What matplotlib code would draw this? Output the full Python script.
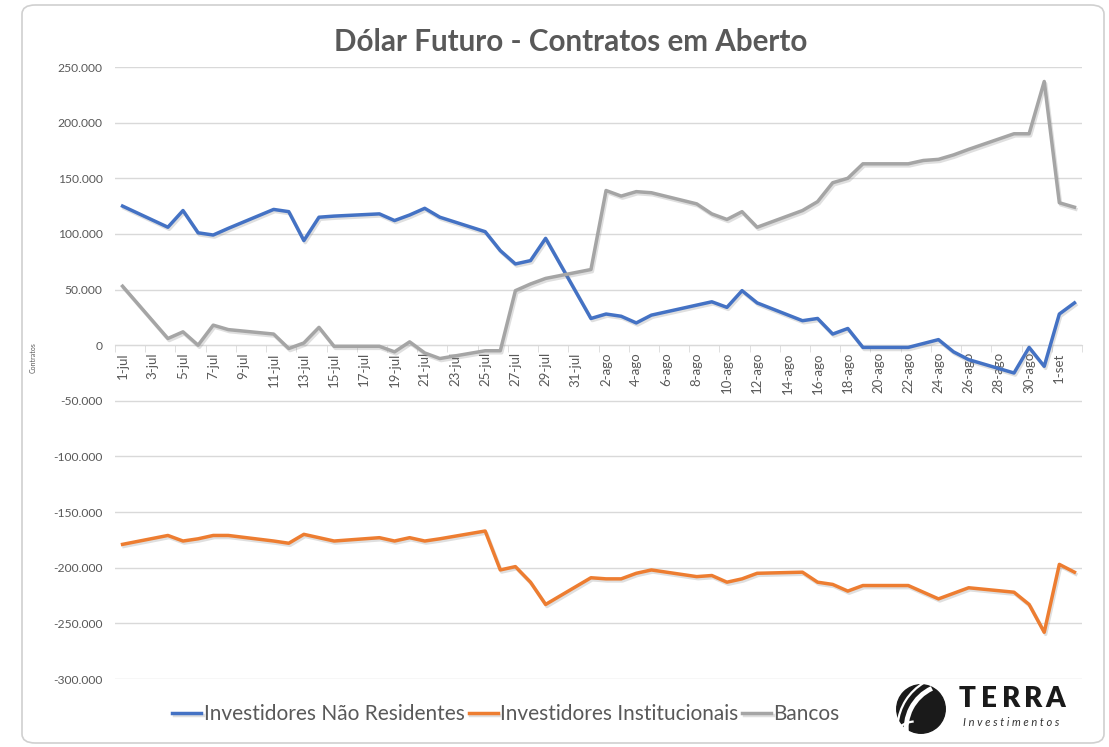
import matplotlib
matplotlib.use("Agg")
import matplotlib.pyplot as plt
import matplotlib.patheffects as pe
from matplotlib.patches import FancyBboxPatch, Circle, Arc
import pandas as pd

# business days, Jul-Sep 2022
dates = [
    "2022-07-01", "2022-07-04", "2022-07-05", "2022-07-06", "2022-07-07", "2022-07-08",
    "2022-07-11", "2022-07-12", "2022-07-13", "2022-07-14", "2022-07-15",
    "2022-07-18", "2022-07-19", "2022-07-20", "2022-07-21", "2022-07-22",
    "2022-07-25", "2022-07-26", "2022-07-27", "2022-07-28", "2022-07-29",
    "2022-08-01", "2022-08-02", "2022-08-03", "2022-08-04", "2022-08-05",
    "2022-08-08", "2022-08-09", "2022-08-10", "2022-08-11", "2022-08-12",
    "2022-08-15", "2022-08-16", "2022-08-17", "2022-08-18", "2022-08-19",
    "2022-08-22", "2022-08-23", "2022-08-24", "2022-08-25", "2022-08-26",
    "2022-08-29", "2022-08-30", "2022-08-31", "2022-09-01", "2022-09-02",
]

nao_residentes = [
    125000, 106000, 121000, 101000, 99000, 105000,
    122000, 120000, 94000, 115000, 116000,
    118000, 112000, 117000, 123000, 115000,
    102000, 85000, 73000, 76000, 96000,
    24000, 28000, 26000, 20000, 27000,
    36000, 39000, 34000, 49000, 38000,
    22000, 24000, 10000, 15000, -2000,
    -2000, 1500, 5000, -6000, -13000,
    -25000, -2000, -19000, 28000, 38000,
]

institucionais = [
    -179000, -171000, -176000, -174000, -171000, -171000,
    -176000, -178000, -170000, -173000, -176000,
    -173000, -176000, -173000, -176000, -174000,
    -167000, -202000, -199000, -213000, -233000,
    -209000, -210000, -210000, -205000, -202000,
    -208000, -207000, -213000, -210000, -205000,
    -204000, -213000, -215000, -221000, -216000,
    -216000, -222000, -228000, -223000, -218000,
    -222000, -233000, -258000, -197000, -204000,
]

bancos = [
    53000, 6000, 12000, 0, 18000, 14000,
    10000, -3000, 2000, 16000, -1000,
    -1000, -6000, 3000, -7000, -12000,
    -5000, -5000, 49000, 55000, 60000,
    68000, 139000, 134000, 138000, 137000,
    127000, 118000, 113000, 120000, 106000,
    121000, 129000, 146000, 150000, 163000,
    163000, 166000, 167000, 171000, 176000,
    190000, 190000, 237000, 128000, 124000,
]

series_names = ["Investidores Não Residentes", "Investidores Institucionais", "Bancos"]
series_colors = ["#4472C4", "#ED7D31", "#A5A5A5"]
month_abbr = {7: "jul", 8: "ago", 9: "set"}

plt.rcParams["font.family"] = ["Lato", "DejaVu Sans"]
TXT = "#595959"

x = pd.to_datetime(dates)
fig = plt.figure(figsize=(11.09, 7.47), dpi=100)
fig.patches.append(FancyBboxPatch((22 / 1109, 4 / 747), 1082 / 1109, 738 / 747,
                                  boxstyle="round,pad=0,rounding_size=0.012",
                                  transform=fig.transFigure, facecolor="white",
                                  edgecolor="#D0D0D0", linewidth=1.2, zorder=-10))

ax = fig.add_axes([115 / 1109, 68 / 747, 967 / 1109, 612 / 747])
ax.set_facecolor("none")

shadow = [pe.SimpleLineShadow(offset=(1, -1.5), alpha=0.25, shadow_color="gray"), pe.Normal()]
for vals, name, col in zip([nao_residentes, institucionais, bancos], series_names, series_colors):
    ax.plot(x, vals, color=col, lw=2.5, label=name, path_effects=shadow,
            solid_joinstyle="round", zorder=3)

start = pd.Timestamp("2022-07-01")
end = pd.Timestamp("2022-09-02")
half = pd.Timedelta(hours=12)
ax.set_xlim(start - half, end + half)
ax.set_ylim(-300000, 250000)

# y axis
ax.set_yticks(range(-300000, 250001, 50000))
ax.yaxis.set_major_formatter(plt.FuncFormatter(lambda v, p: f"{int(v):,}".replace(",", ".")))
ax.tick_params(axis="y", length=0, pad=9, labelsize=8.7, labelcolor=TXT)
ax.grid(axis="y", color="#D9D9D9", lw=1, zorder=0)

# x axis sits at zero
for s in ["left", "right", "top"]:
    ax.spines[s].set_visible(False)
ax.spines["bottom"].set_position(("data", 0))
ax.spines["bottom"].set_color("#D9D9D9")
label_days = pd.date_range(start, "2022-09-01", freq="2D")
ax.set_xticks(label_days)
ax.set_xticklabels([f"{d.day}-{month_abbr[d.month]}" for d in label_days],
                   rotation=90, va="top", ha="center")
ax.set_xticks(pd.date_range(start - half, end + half, freq="2D"), minor=True)
ax.tick_params(axis="x", which="major", length=0, pad=5, labelsize=9.5, labelcolor=TXT)
ax.tick_params(axis="x", which="minor", length=5, color="#D9D9D9", direction="out")

fig.text(571 / 1109, 1 - 42 / 747, "Dólar Futuro - Contratos em Aberto", ha="center",
         va="center", fontsize=21.3, fontweight="bold", color=TXT)
fig.text(33 / 1109, 1 - 358 / 747, "Contratos", rotation=90, ha="center", va="center",
         fontsize=5, color=TXT)

leg = fig.legend(loc="center", bbox_to_anchor=(506 / 1109, 1 - 714 / 747), ncol=3,
                 frameon=False, fontsize=15, handlelength=1.4, handletextpad=0.1,
                 columnspacing=0.2, labelcolor=TXT)

# logo
lax = fig.add_axes([895 / 1109, 1 - 735 / 747, 52 / 1109, 52 / 747])
lax.set_xlim(-1.05, 1.05)
lax.set_ylim(-1.05, 1.05)
lax.set_aspect("equal")
lax.axis("off")
lax.add_patch(Circle((0, 0), 0.98, color="#1A1A1A"))
lax.add_patch(Arc((1.2, -0.8), 3.6, 3.6, theta1=115, theta2=190, color="white", lw=3.5))
lax.add_patch(Arc((1.2, -0.8), 4.3, 4.3, theta1=120, theta2=175, color="white", lw=1.6))
lax.add_patch(Arc((-0.2, -1.6), 2.2, 2.2, theta1=95, theta2=150, color="white", lw=1.6))
for letter, px in zip("TERRA", [967, 989, 1011, 1033, 1055]):
    fig.text(px / 1109, 1 - 699 / 747, letter, ha="center", va="center",
             fontsize=20, fontweight="heavy", color="#1A1A1A")
fig.text(1011 / 1109, 1 - 722 / 747, "I n v e s t i m e n t o s", ha="center", va="center",
         fontsize=8, style="italic", color="#333333")

fig.savefig("out.png", dpi=100)
